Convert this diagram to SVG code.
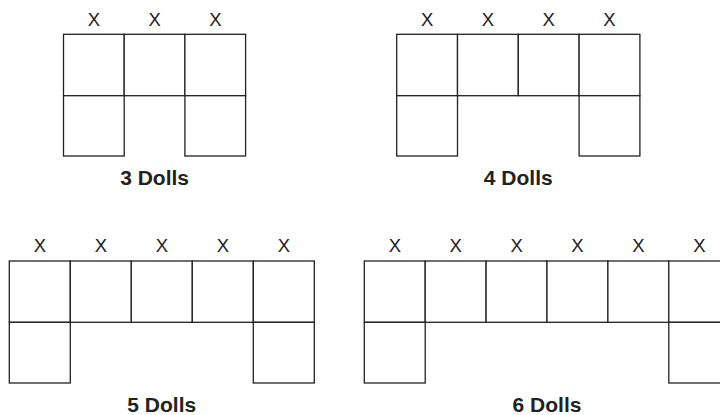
<svg xmlns="http://www.w3.org/2000/svg" width="720" height="415" viewBox="0 0 720 415">
<style>
.c{fill:#fff;stroke:#222;stroke-width:1.3}
.x{font-family:"Liberation Sans",Arial,sans-serif;font-size:18.5px;fill:#222;text-anchor:middle}
.l{font-family:"Liberation Sans",Arial,sans-serif;font-size:21px;font-weight:bold;fill:#222;text-anchor:middle}
</style>
<rect width="720" height="415" fill="#fff"/>
<g id="dolls3">
<rect class="c" x="63.5" y="34.3" width="60.7" height="61.4"/>
<rect class="c" x="124.2" y="34.3" width="60.7" height="61.4"/>
<rect class="c" x="184.9" y="34.3" width="60.7" height="61.4"/>
<rect class="c" x="63.5" y="95.7" width="60.7" height="60.3"/>
<rect class="c" x="184.9" y="95.7" width="60.7" height="60.3"/>
<text class="x" x="93.9" y="25.5">X</text>
<text class="x" x="154.6" y="25.5">X</text>
<text class="x" x="215.3" y="25.5">X</text>
<text class="l" x="154.6" y="184.5">3 Dolls</text>
</g>
<g id="dolls4">
<rect class="c" x="396.7" y="34.3" width="60.8" height="61.4"/>
<rect class="c" x="457.5" y="34.3" width="60.8" height="61.4"/>
<rect class="c" x="518.3" y="34.3" width="60.8" height="61.4"/>
<rect class="c" x="579.1" y="34.3" width="60.8" height="61.4"/>
<rect class="c" x="396.7" y="95.7" width="60.8" height="60.3"/>
<rect class="c" x="579.1" y="95.7" width="60.8" height="60.3"/>
<text class="x" x="427.1" y="25.5">X</text>
<text class="x" x="487.9" y="25.5">X</text>
<text class="x" x="548.7" y="25.5">X</text>
<text class="x" x="609.5" y="25.5">X</text>
<text class="l" x="518.3" y="184.5">4 Dolls</text>
</g>
<g id="dolls5">
<rect class="c" x="9.3" y="261" width="61" height="61.3"/>
<rect class="c" x="70.3" y="261" width="61" height="61.3"/>
<rect class="c" x="131.3" y="261" width="61" height="61.3"/>
<rect class="c" x="192.3" y="261" width="61" height="61.3"/>
<rect class="c" x="253.3" y="261" width="61" height="61.3"/>
<rect class="c" x="9.3" y="322.3" width="61" height="60.7"/>
<rect class="c" x="253.3" y="322.3" width="61" height="60.7"/>
<text class="x" x="39.8" y="251.5">X</text>
<text class="x" x="100.8" y="251.5">X</text>
<text class="x" x="161.8" y="251.5">X</text>
<text class="x" x="222.8" y="251.5">X</text>
<text class="x" x="283.8" y="251.5">X</text>
<text class="l" x="161.8" y="411.5">5 Dolls</text>
</g>
<g id="dolls6">
<rect class="c" x="364.3" y="261" width="60.9" height="61.3"/>
<rect class="c" x="425.2" y="261" width="60.9" height="61.3"/>
<rect class="c" x="486.1" y="261" width="60.9" height="61.3"/>
<rect class="c" x="547" y="261" width="60.9" height="61.3"/>
<rect class="c" x="607.9" y="261" width="60.9" height="61.3"/>
<rect class="c" x="668.8" y="261" width="60.9" height="61.3"/>
<rect class="c" x="364.3" y="322.3" width="60.9" height="60.7"/>
<rect class="c" x="668.8" y="322.3" width="60.9" height="60.7"/>
<text class="x" x="394.8" y="251.5">X</text>
<text class="x" x="455.7" y="251.5">X</text>
<text class="x" x="516.6" y="251.5">X</text>
<text class="x" x="577.5" y="251.5">X</text>
<text class="x" x="638.4" y="251.5">X</text>
<text class="x" x="699.3" y="251.5">X</text>
<text class="l" x="547" y="411.5">6 Dolls</text>
</g>
</svg>
